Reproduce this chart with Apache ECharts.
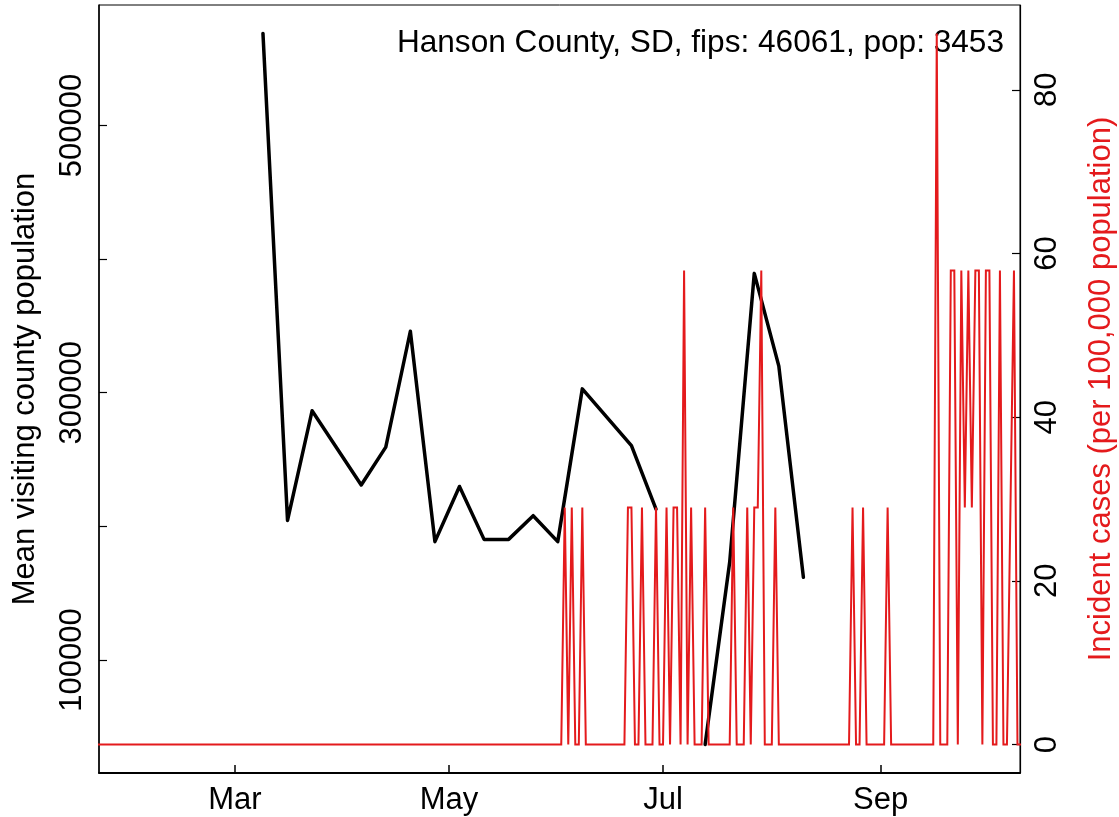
<!DOCTYPE html>
<html><head><meta charset="utf-8">
<script src="https://cdn.jsdelivr.net/npm/echarts@6/dist/echarts.min.js"></script>
<style>html,body{margin:0;padding:0;background:#fff}#c{width:1119px;height:817px}</style>
</head><body><div id="c"></div>
<script>
// ---------- data ----------
const titleText = 'Hanson County, SD, fips: 46061, pop: 3453';
const leftAxisName = 'Mean visiting county population';
const rightAxisName = 'Incident cases (per 100,000 population)';

const xDomain = ['2020-02-01', '2020-10-01'];
const xTickDates = ['2020-03-01', '2020-05-01', '2020-07-01', '2020-09-01'];
const xTickLabels = ['Mar', 'May', 'Jul', 'Sep'];
const leftTicks = [100000, 200000, 300000, 400000, 500000];
const leftTickLabels = [100000, 300000, 500000];
const rightTicks = [0, 20, 40, 60, 80];

const visitDates = ['2020-03-09','2020-03-16','2020-03-23','2020-04-06','2020-04-13','2020-04-20','2020-04-27',
  '2020-05-04','2020-05-11','2020-05-18','2020-05-25','2020-06-01','2020-06-08','2020-06-22','2020-06-29',
  '2020-07-06','2020-07-13','2020-07-20','2020-07-27','2020-08-03','2020-08-10'];
const visitValues = [568800, 204500, 286500, 231000, 259300, 346000, 188600,
  229900, 190300, 190300, 208000, 188600, 302900, 260400, 212900,
  null, 36800, 173300, 389300, 319900, 161900];

const caseDates = ['2020-01-15','2020-06-02','2020-06-03','2020-06-04','2020-06-05','2020-06-06','2020-06-07','2020-06-08','2020-06-09',
  '2020-06-20','2020-06-21','2020-06-22','2020-06-23','2020-06-24','2020-06-25','2020-06-26','2020-06-28','2020-06-29','2020-06-30',
  '2020-07-01','2020-07-02','2020-07-03','2020-07-04','2020-07-05','2020-07-06','2020-07-07','2020-07-08','2020-07-09','2020-07-10',
  '2020-07-12','2020-07-13','2020-07-14','2020-07-20','2020-07-21','2020-07-22','2020-07-24','2020-07-25','2020-07-26','2020-07-27',
  '2020-07-28','2020-07-29','2020-07-30','2020-08-01','2020-08-02','2020-08-03','2020-08-23','2020-08-24','2020-08-25','2020-08-26',
  '2020-08-27','2020-08-28','2020-09-02','2020-09-03','2020-09-04','2020-09-16','2020-09-17','2020-09-18','2020-09-20','2020-09-21',
  '2020-09-22','2020-09-23','2020-09-24','2020-09-25','2020-09-26','2020-09-27','2020-09-28','2020-09-29','2020-09-30','2020-10-01',
  '2020-10-02','2020-10-03','2020-10-04','2020-10-05','2020-10-06','2020-10-07','2020-10-08','2020-10-09','2020-10-10','2020-10-11'];
const caseValues = [0,0,28.96,0,28.96,0,0,28.96,0,
  0,28.96,28.96,0,0,28.96,0,0,28.96,0,
  0,28.96,0,28.96,28.96,0,57.92,0,28.96,0,
  0,28.96,0,0,28.96,0,0,28.96,0,28.96,
  28.96,57.92,0,0,28.96,0,0,28.96,0,0,
  28.96,0,0,28.96,0,0,86.88,0,0,57.92,
  57.92,0,57.92,28.96,57.92,28.96,57.92,57.92,0,57.92,
  57.92,0,0,57.92,0,0,28.96,57.92,0,0];

// ---------- helpers ----------
const t = s => Date.UTC(+s.slice(0,4), +s.slice(5,7)-1, +s.slice(8,10));
const xd0 = t(xDomain[0]), xd1 = t(xDomain[1]);
const xpad = 0.04 * (xd1 - xd0);
function padRange(arr){
  const v = arr.filter(x => x != null);
  const lo = Math.min(...v), hi = Math.max(...v), p = 0.04 * (hi - lo);
  return [lo - p, hi + p];
}
const leftRange = padRange(visitValues);
const rightRange = padRange(caseValues);
const xTickTimes = xTickDates.map(t);

const FONT = 'Liberation Sans, Arial, Helvetica, sans-serif';
const RED = '#e41a1c';

const chart = echarts.init(document.getElementById('c'), null, {renderer: 'canvas'});
chart.setOption({
  animation: false,
  backgroundColor: '#fff',
  textStyle: {fontFamily: FONT},
  grid: {left: 99, right: 99, top: 5, bottom: 44, containLabel: false, outerBoundsMode: 'none',
         show: true, borderColor: '#000', borderWidth: 1, backgroundColor: 'transparent'},
  xAxis: {
    type: 'value', min: xd0 - xpad, max: xd1 + xpad,
    splitLine: {show: false},
    axisLine: {show: true, onZero: false, lineStyle: {color: '#000', width: 2}},
    axisTick: {show: true, inside: true, length: 8, lineStyle: {color: '#000', width: 1.5}, customValues: xTickTimes},
    axisLabel: {customValues: xTickTimes, color: '#000', fontSize: 31, fontFamily: FONT, margin: 12,
      formatter: v => { const i = xTickTimes.findIndex(x => Math.abs(x - v) < 43200000); return i >= 0 ? xTickLabels[i] : ''; }}
  },
  yAxis: [{
    type: 'value', position: 'left', min: leftRange[0], max: leftRange[1],
    splitLine: {show: false},
    axisLine: {show: true, lineStyle: {color: '#000', width: 1.5}},
    axisTick: {show: true, inside: true, length: 8, lineStyle: {color: '#000', width: 1.2}, customValues: leftTicks},
    axisLabel: {customValues: leftTickLabels, rotate: 90, color: '#000', fontSize: 31, fontFamily: FONT, margin: 11,
      formatter: v => String(Math.round(v))},
    name: leftAxisName, nameLocation: 'middle', nameGap: 58,
    nameTextStyle: {color: '#000', fontSize: 31, fontFamily: FONT}
  }, {
    type: 'value', position: 'right', min: rightRange[0], max: rightRange[1],
    splitLine: {show: false},
    axisLine: {show: true, lineStyle: {color: '#000', width: 1.2}},
    axisTick: {show: true, inside: true, length: 8, lineStyle: {color: '#000', width: 1.2}, customValues: rightTicks},
    axisLabel: {customValues: rightTicks, rotate: 90, color: '#000', fontSize: 31, fontFamily: FONT, margin: 12,
      formatter: v => String(Math.round(v))},
    name: rightAxisName, nameLocation: 'middle', nameGap: 66,
    nameTextStyle: {color: RED, fontSize: 31, fontFamily: FONT}
  }],
  graphic: [{
    type: 'text', right: 1119 - 1004, top: 27,
    style: {text: titleText, fill: '#000', font: '31.6px ' + FONT}
  }],
  series: [{
    type: 'line', yAxisIndex: 0, z: 2,
    data: visitDates.map((d, i) => [t(d), visitValues[i]]),
    showSymbol: false, connectNulls: false, clip: true,
    lineStyle: {color: '#000', width: 3.5, join: 'round', cap: 'round'}
  }, {
    type: 'line', yAxisIndex: 1, z: 3,
    data: caseDates.map((d, i) => [t(d), caseValues[i]]),
    showSymbol: false, clip: true,
    lineStyle: {color: RED, width: 2, join: 'miter'}
  }]
});
</script></body></html>
